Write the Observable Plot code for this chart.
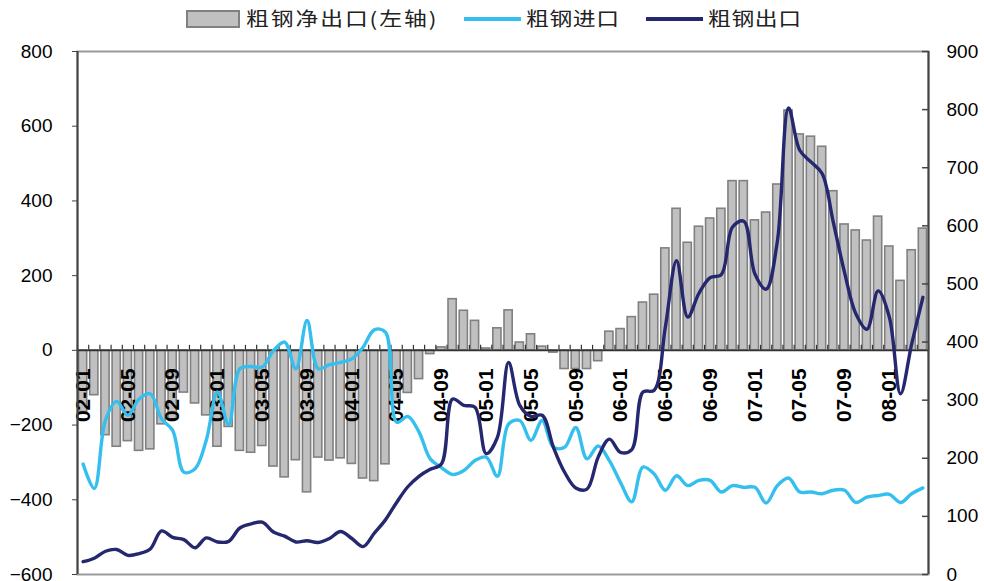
<!DOCTYPE html>
<html>
<head>
<meta charset="utf-8">
<script src="https://cdn.jsdelivr.net/npm/d3@7"></script>
<script src="https://cdn.jsdelivr.net/npm/@observablehq/plot@0.6"></script>
<style>
  body { margin: 0; background: #fff; font-family: "Liberation Sans", Arial, sans-serif; }
  #legend { position: relative; width: 984px; height: 40px; font-family: "Noto Sans CJK SC", sans-serif; font-size: 19px; color: #222; }
  #legend .sw { position: absolute; box-sizing: border-box; }
  #legend .tx { position: absolute; top: 8px; line-height: 1; white-space: nowrap; transform: scaleX(1.2); transform-origin: 0 50%; }
</style>
</head>
<body>
<div id="legend"></div>
<div id="chart"></div>
<script>
// Monthly crude-steel trade, 2002-01 .. 2008-04 (10k tonnes)
const months = [
  "02-01","02-02","02-03","02-04","02-05","02-06","02-07","02-08","02-09","02-10","02-11","02-12",
  "03-01","03-02","03-03","03-04","03-05","03-06","03-07","03-08","03-09","03-10","03-11","03-12",
  "04-01","04-02","04-03","04-04","04-05","04-06","04-07","04-08","04-09","04-10","04-11","04-12",
  "05-01","05-02","05-03","05-04","05-05","05-06","05-07","05-08","05-09","05-10","05-11","05-12",
  "06-01","06-02","06-03","06-04","06-05","06-06","06-07","06-08","06-09","06-10","06-11","06-12",
  "07-01","07-02","07-03","07-04","07-05","07-06","07-07","07-08","07-09","07-10","07-11","07-12",
  "08-01","08-02","08-03","08-04"
];

// 粗钢净出口 (left axis)
const netExport = [
  -165,-120,-227,-258,-243,-269,-265,-198,-185,-113,-142,-174,
  -258,-205,-269,-274,-256,-311,-340,-294,-380,-287,-295,-289,
  -304,-343,-350,-305,-140,-114, -77, -10,   8, 137, 106,  79,
     5,  59, 107,  21,  43,  10,  -6, -50, -50, -50, -29,  50,
    57,  89, 128, 149, 273, 379, 288, 331, 353, 379, 453, 453,
   348, 369, 444, 642, 578, 572, 545, 426, 337, 321, 294, 358,
   278, 186, 268, 326
];

// 粗钢进口 (right axis)
const imports = [
  190, 148, 266, 298, 274, 302, 311, 268, 248, 176, 182, 231,
  314, 258, 354, 358, 357, 385, 400, 354, 437, 354, 361, 365,
  371, 391, 421, 417, 262, 272, 245, 199, 184, 172, 179, 196,
  202, 169, 259, 265, 231, 265, 219, 219, 253, 199, 221, 196,
  158, 125, 185, 173, 145, 170, 153, 162, 162, 142, 153, 150,
  150, 123, 153, 166, 142, 142, 139, 145, 145, 124, 133, 136,
  138, 124, 139, 149
];

// 粗钢出口 (right axis)
const exports = [
   22,  28,  40,  43,  33,  36,  44,  75,  64,  60,  46,  63,
   56,  57,  80,  87,  90,  73,  66,  56,  58,  55,  62,  74,
   62,  48,  71,  94, 124, 151, 169, 181, 190, 302, 291, 288,
  208, 236, 365, 291, 272, 274, 219, 176, 149, 147, 202, 233,
  210, 215, 314, 317, 426, 540, 443, 484, 511, 516, 598, 608,
  517, 491, 573, 803, 730, 710, 690, 606, 520, 449, 422, 488,
  443, 311, 397, 477
];

const leftTicks = [-600, -400, -200, 0, 200, 400, 600, 800];
const rightTicks = [0, 100, 200, 300, 400, 500, 600, 700, 800, 900];
const xTickLabels = ["02-01","02-05","02-09","03-01","03-05","03-09","04-01","04-05","04-09",
                     "05-01","05-05","05-09","06-01","06-05","06-09","07-01","07-05","07-09","08-01"];

const seriesNames = { net: "粗钢净出口(左轴)", imp: "粗钢进口", exp: "粗钢出口" };
const colors = { barFill: "#c0c0c0", barStroke: "#808080", imp: "#35bfee", exp: "#25276f" };

// Left and right domains share the same vertical extent
const LEFT = [-600, 800], RIGHT = [0, 900];
const toLeft = v => LEFT[0] + (v - RIGHT[0]) * (LEFT[1] - LEFT[0]) / (RIGHT[1] - RIGHT[0]);
const toRight = v => RIGHT[0] + (v - LEFT[0]) * (RIGHT[1] - RIGHT[0]) / (LEFT[1] - LEFT[0]);

const rows = months.map((m, i) => ({ m, i, net: netExport[i], imp: imports[i], exp: exports[i] }));
const bounds = rows.map(r => r.i).concat(months.length);

// ---- legend ----
const legend = document.getElementById("legend");
const legendItems = [
  { kind: "box",  color: colors.barFill, label: seriesNames.net, sx: 186, tx: 246, spacing: "1.6px" },
  { kind: "line", color: colors.imp,     label: seriesNames.imp, sx: 464, tx: 526, spacing: "0.5px" },
  { kind: "line", color: colors.exp,     label: seriesNames.exp, sx: 646, tx: 708, spacing: "0.5px" }
];
for (const it of legendItems) {
  const sw = document.createElement("div");
  sw.className = "sw";
  if (it.kind === "box") {
    Object.assign(sw.style, { left: it.sx + "px", top: "10px", width: "54px", height: "18px",
      background: it.color, border: "2px solid " + colors.barStroke });
  } else {
    Object.assign(sw.style, { left: it.sx + "px", top: "17px", width: "57px", height: "4px", background: it.color });
  }
  legend.appendChild(sw);
  const tx = document.createElement("div");
  tx.className = "tx";
  tx.style.left = it.tx + "px";
  tx.style.letterSpacing = it.spacing;
  tx.textContent = it.label;
  legend.appendChild(tx);
}

// ---- chart ----
const W = 984, H = 541;
const mTop = 11, mBottom = 7, mLeft = 77, mRight = 56;
const pxPerLeftUnit = (H - mTop - mBottom) / (LEFT[1] - LEFT[0]);
const pxPerMonth = (W - mLeft - mRight) / months.length;
const upTick = 5 / pxPerLeftUnit;           // x-axis tick length, in left-axis units
const inTick = 6 / pxPerMonth;              // right-axis inward tick length, in months

const chart = Plot.plot({
  width: W,
  height: H,
  marginTop: mTop,
  marginBottom: mBottom,
  marginLeft: mLeft,
  marginRight: mRight,
  style: { fontFamily: "'Liberation Sans', Arial, sans-serif", color: "#000", background: "#fff", overflow: "visible" },
  x: { domain: [0, months.length], axis: null },
  y: { domain: LEFT, axis: null },
  marks: [
    Plot.frame({ stroke: "#999", strokeWidth: 2 }),
    Plot.rectY(rows, {
      x1: "i", x2: r => r.i + 1, y1: 0, y2: "net",
      fill: colors.barFill, stroke: colors.barStroke, strokeWidth: 1.6,
      insetLeft: 1.5, insetRight: 1.5
    }),
    Plot.ruleY([0], { stroke: "#333", strokeWidth: 1.6 }),
    Plot.ruleX(bounds, { x: d => d, y1: 0, y2: upTick, stroke: "#333", strokeWidth: 1.2 }),
    Plot.text(rows.filter(r => xTickLabels.includes(r.m)), {
      x: r => r.i + 0.5, y: 0, text: "m", rotate: -90, textAnchor: "end",
      dy: 18, fontSize: 21, fontWeight: "bold", fill: "#000"
    }),
    Plot.line(rows, { x: r => r.i + 0.5, y: r => toLeft(r.imp), stroke: colors.imp, strokeWidth: 3.4, curve: "catmull-rom" }),
    Plot.line(rows, { x: r => r.i + 0.5, y: r => toLeft(r.exp), stroke: colors.exp, strokeWidth: 3.4, curve: "catmull-rom" }),
    Plot.ruleX([0], { stroke: "#444", strokeWidth: 2 }),
    Plot.ruleX([months.length], { stroke: "#444", strokeWidth: 2 }),
    Plot.axisY(leftTicks, { anchor: "left", tickSize: 5, tickPadding: 20, fontSize: 19, stroke: "#444", label: null }),
    Plot.axisY(rightTicks.map(toLeft), {
      anchor: "right", tickSize: 0, tickPadding: 18, fontSize: 19, label: null,
      tickFormat: d => String(Math.round(toRight(d)))
    }),
    Plot.ruleY(rightTicks.map(toLeft), { y: d => d, x1: months.length - inTick, x2: months.length, stroke: "#444", strokeWidth: 1.5 })
  ]
});
document.getElementById("chart").appendChild(chart);
</script>
</body>
</html>
